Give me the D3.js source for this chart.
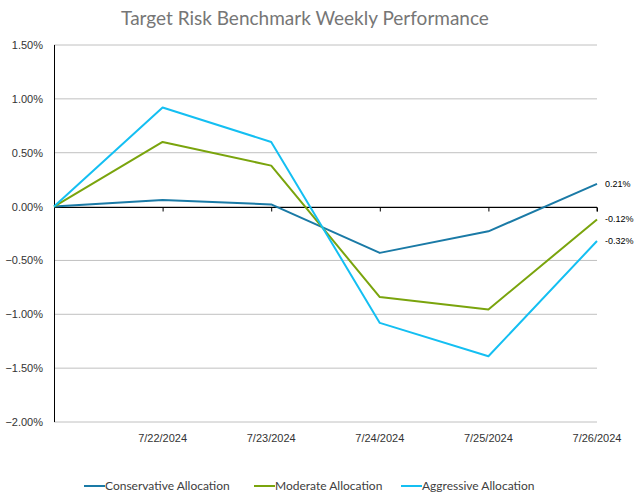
<!DOCTYPE html>
<html><head><meta charset="utf-8">
<script src="https://cdn.jsdelivr.net/npm/d3@7"></script>
<style>body{margin:0;background:#fff}svg{display:block}</style>
</head><body>
<svg id="c" width="644" height="504"></svg>
<script>
const categories = ["", "7/22/2024", "7/23/2024", "7/24/2024", "7/25/2024", "7/26/2024"];
const seriesNames = ["Conservative Allocation", "Moderate Allocation", "Aggressive Allocation"];
const conservative = [0, 0.06, 0.02, -0.43, -0.23, 0.21];
const moderate = [0, 0.60, 0.38, -0.84, -0.955, -0.12];
const aggressive = [0, 0.92, 0.60, -1.08, -1.39, -0.32];
const endLabels = ["0.21%", "-0.12%", "-0.32%"];
const yTicks = [1.5, 1.0, 0.5, 0, -0.5, -1.0, -1.5, -2.0];
const colors = ["#1a7aa6", "#7aa40d", "#14bff2"];

const svg = d3.select("#c");
const L = 54, R = 597, T = 45, B = 422;
const x = d3.scalePoint().domain(d3.range(categories.length)).range([L, R]);
const y = d3.scaleLinear().domain([-2, 1.5]).range([B, T]);

svg.append("text").attr("x", 305).attr("y", 25).attr("text-anchor", "middle")
  .attr("font-family", "Lato, 'Open Sans', sans-serif").attr("font-size", 19).attr("fill", "#767676")
  .text("Target Risk Benchmark Weekly Performance");

// gridlines
svg.append("g").selectAll("line").data(yTicks).join("line")
  .attr("x1", L).attr("x2", R).attr("y1", d => y(d)).attr("y2", d => y(d))
  .attr("stroke", "#c0c0c0").attr("stroke-width", 1);

// y axis labels
svg.append("g").selectAll("text").data(yTicks).join("text")
  .attr("x", 43).attr("y", d => y(d) + 4).attr("text-anchor", "end")
  .attr("font-family", "'Liberation Sans', Arial, sans-serif").attr("font-size", 11).attr("fill", "#333")
  .text(d => d3.format(".2f")(d) + "%");

// y axis line
svg.append("line").attr("x1", L + 0.5).attr("x2", L + 0.5).attr("y1", T).attr("y2", B)
  .attr("stroke", "#000").attr("stroke-width", 1);

// x axis (zero line) with ticks
const xAxis = d3.axisBottom(x).tickSize(4).tickFormat("");
const gx = svg.append("g").attr("transform", `translate(0,${Math.round(y(0)) + 0.5})`).call(xAxis);
gx.selectAll("path,line").attr("stroke", "#000");
gx.select(".domain").attr("d", `M${L},0H${R}V4`);
gx.selectAll(".tick").filter((d, i) => i === 0).remove();

// x labels
svg.append("g").selectAll("text").data(categories).join("text")
  .attr("x", (d, i) => x(i)).attr("y", 442).attr("text-anchor", "middle")
  .attr("font-family", "'Liberation Sans', Arial, sans-serif").attr("font-size", 11).attr("fill", "#333")
  .text(d => d);

const all = [conservative, moderate, aggressive];
const line = d3.line().x((d, i) => x(i)).y(d => y(d));
all.forEach((s, k) => {
  svg.append("path").datum(s).attr("d", line).attr("fill", "none")
    .attr("stroke", colors[k]).attr("stroke-width", 2).attr("stroke-linejoin", "round");
});

// end labels
const lastI = categories.length - 1;
all.forEach((s, k) => {
  svg.append("text").attr("x", R + 8).attr("y", y(s[lastI]) + 3)
    .attr("font-family", "'Liberation Sans', Arial, sans-serif").attr("font-size", 9).attr("fill", "#000")
    .text(endLabels[k]);
});

// legend
const legX = [84, 254, 401];
const lg = svg.append("g").selectAll("g").data(seriesNames).join("g")
  .attr("transform", (d, i) => `translate(${legX[i]},486)`);
lg.append("line").attr("x1", 0).attr("x2", 21).attr("y1", 0).attr("y2", 0)
  .attr("stroke", (d, i) => colors[i]).attr("stroke-width", 2);
lg.append("text").attr("x", 21).attr("y", 4)
  .attr("font-family", "Lato, 'Open Sans', sans-serif").attr("font-size", 12).attr("fill", "#404040")
  .text(d => d);
</script>
</body></html>
